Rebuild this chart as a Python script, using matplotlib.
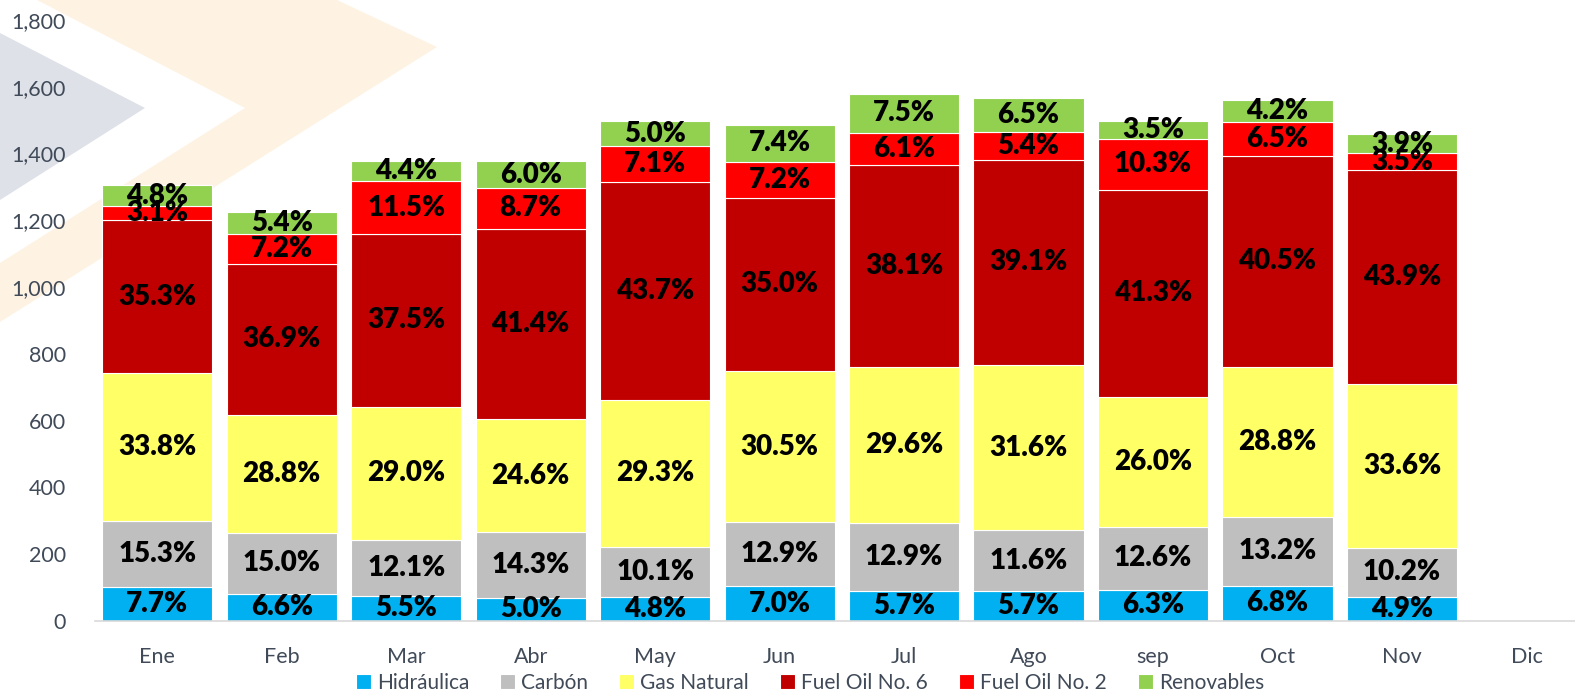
import matplotlib
matplotlib.use('Agg')
import matplotlib.pyplot as plt
from matplotlib.patches import Polygon
import numpy as np

plt.rcParams['font.family'] = ['Lato', 'DejaVu Sans']

meses = ['Ene', 'Feb', 'Mar', 'Abr', 'May', 'Jun', 'Jul', 'Ago', 'sep', 'Oct', 'Nov', 'Dic']
series = ['Hidráulica', 'Carbón', 'Gas Natural', 'Fuel Oil No. 6', 'Fuel Oil No. 2', 'Renovables']
colores = ['#00B0F0', '#BFBFBF', '#FFFF66', '#C00000', '#FF0000', '#92D050']

# generacion por tipo (Ene..Nov, Dic sin datos)
hidraulica = [100.5, 80.9, 75.8, 68.9, 71.9, 104.0, 90.1, 89.4, 94.3, 106.1, 71.4, 0]
carbon     = [199.7, 183.8, 166.7, 197.1, 151.2, 191.6, 203.9, 182.0, 188.6, 205.9, 148.7, 0]
gas_nat    = [441.1, 352.8, 399.6, 339.0, 438.6, 452.9, 468.0, 495.8, 389.2, 449.3, 489.9, 0]
fuel6      = [460.7, 452.0, 516.8, 570.5, 654.2, 519.8, 602.4, 613.5, 618.3, 631.8, 640.1, 0]
fuel2      = [40.5, 88.2, 158.5, 119.9, 106.3, 106.9, 96.4, 84.7, 154.2, 101.4, 51.0, 0]
renov      = [62.6, 66.2, 60.6, 82.7, 74.9, 109.9, 118.6, 102.0, 52.4, 65.5, 56.9, 0]

# etiquetas de porcentaje
pct_hid = ['7.7%', '6.6%', '5.5%', '5.0%', '4.8%', '7.0%', '5.7%', '5.7%', '6.3%', '6.8%', '4.9%']
pct_car = ['15.3%', '15.0%', '12.1%', '14.3%', '10.1%', '12.9%', '12.9%', '11.6%', '12.6%', '13.2%', '10.2%']
pct_gas = ['33.8%', '28.8%', '29.0%', '24.6%', '29.3%', '30.5%', '29.6%', '31.6%', '26.0%', '28.8%', '33.6%']
pct_f6  = ['35.3%', '36.9%', '37.5%', '41.4%', '43.7%', '35.0%', '38.1%', '39.1%', '41.3%', '40.5%', '43.9%']
pct_f2  = ['3.1%', '7.2%', '11.5%', '8.7%', '7.1%', '7.2%', '6.1%', '5.4%', '10.3%', '6.5%', '3.5%']
pct_ren = ['4.8%', '5.4%', '4.4%', '6.0%', '5.0%', '7.4%', '7.5%', '6.5%', '3.5%', '4.2%', '3.9%']

datos = [hidraulica, carbon, gas_nat, fuel6, fuel2, renov]
etiquetas = [pct_hid, pct_car, pct_gas, pct_f6, pct_f2, pct_ren]

W, H = 1575, 696
fig = plt.figure(figsize=(W/100, H/100), dpi=100)

# marca de agua (chevrones) en pixeles
def px(pts):
    return [(x, H - y) for x, y in pts]

fig.patches.append(Polygon(px([(0, 33), (145, 108), (0, 200)]), closed=True,
                           transform=None, facecolor='#DEE1E8', edgecolor='none', zorder=-5))
fig.patches.append(Polygon(px([(37, 0), (337, 0), (437, 47), (0, 322), (0, 263), (245, 108)]),
                           closed=True, transform=None, facecolor='#FEF3E3',
                           edgecolor='none', zorder=-5))

ax = fig.add_axes([95/W, 75/H, (W-95)/W, 601/H])
ax.patch.set_alpha(0)
ax.set_zorder(2)

x = np.arange(len(meses))
base = np.zeros(len(meses))
for serie, col, vals, labs in zip(series, colores, datos, etiquetas):
    vals = np.array(vals)
    ax.bar(x, vals, 0.885, bottom=base, color=col, edgecolor='white', linewidth=0.8,
           label=serie, zorder=2)
    for i, t in enumerate(labs):
        ax.text(x[i], base[i] + vals[i]/2, t, ha='center', va='center', fontsize=20,
                fontweight='heavy', color='black', zorder=3)
    base += vals

ax.set_xlim(-0.5, 11.39)
ax.set_ylim(0, 1800)
ax.set_yticks(range(0, 1801, 200))
ax.set_yticklabels([f'{v:,}' for v in range(0, 1801, 200)])
ax.set_xticks(x)
ax.set_xticklabels(meses)
ax.tick_params(axis='both', length=0, labelsize=15.5, colors='#404A58')
ax.tick_params(axis='y', pad=21)
ax.tick_params(axis='x', pad=19)
for s in ax.spines.values():
    s.set_visible(False)
ax.spines['bottom'].set_visible(True)
ax.spines['bottom'].set_color('#D9D9D9')
ax.spines['bottom'].set_linewidth(1.2)

fig.legend(loc='center', bbox_to_anchor=(810/W, (H-683)/H), ncol=6, frameon=False,
           fontsize=15, handlelength=0.7, handleheight=0.7, handletextpad=0.3,
           columnspacing=1.5, labelcolor='#404A58', borderaxespad=0)

fig.savefig('out.png', dpi=100)
